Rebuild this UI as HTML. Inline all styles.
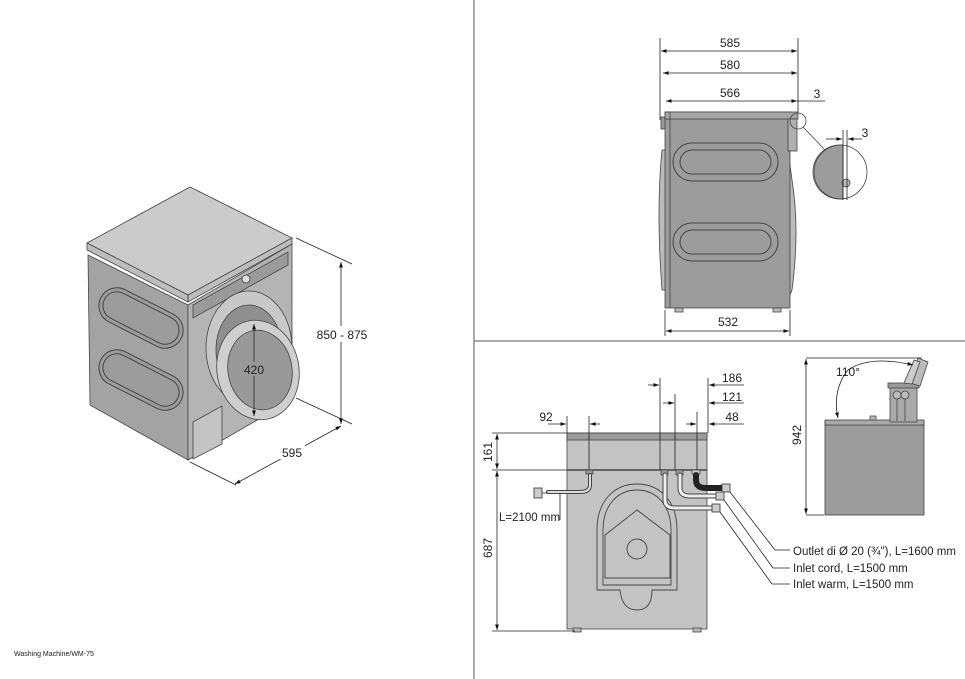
<!DOCTYPE html>
<html><head><meta charset="utf-8"><style>
html,body{margin:0;padding:0;background:#fff}
svg{display:block}
text{font-family:"Liberation Sans",sans-serif;fill:#222}
</style></head><body>
<svg width="965" height="679" viewBox="0 0 965 679" xmlns="http://www.w3.org/2000/svg">
<defs>
<marker id="a" viewBox="0 0 10 10" refX="10" refY="5" markerWidth="7" markerHeight="7" orient="auto-start-reverse"><path d="M0,1.5 L10,5 L0,8.5 z" fill="#111"/></marker>
</defs>
<g stroke="#555" stroke-width="1" fill="none">
<line x1="474" y1="0" x2="474" y2="679"/>
<line x1="474" y1="341" x2="965" y2="341"/>
</g>

<!-- ISO machine -->
<g stroke="#444" stroke-width="0.8">
<polygon points="88,255 188,305 188,460 90,405" fill="#a3a3a3"/>
<polygon points="188,305 292,244 292,400 188,460" fill="#b4b4b4"/>
<polygon points="190,187 87,243 188,295 292,238" fill="#cbcbcb"/>
<polygon points="87,243 188,295 188,302 87,250" fill="#bdbdbd"/>
<polygon points="188,295 292,238 292,244 188,302" fill="#bdbdbd"/>
<polygon points="193,305 288,252 288,265 193,318" fill="#9a9a9a"/>
<circle cx="246" cy="279" r="4" fill="#ddd"/>
<g fill="none" stroke="#444" stroke-width="1">
<rect x="96" y="300" width="90" height="36" rx="18" transform="rotate(27 141 318)" fill="#9c9c9c"/>
<rect x="100" y="304" width="82" height="28" rx="14" transform="rotate(27 141 318)"/>
<rect x="96" y="362" width="90" height="36" rx="18" transform="rotate(27 141 380)" fill="#9c9c9c"/>
<rect x="100" y="366" width="82" height="28" rx="14" transform="rotate(27 141 380)"/>
</g>
<polygon points="193,422 222,406 222,444 193,459" fill="#c4c4c4"/>
<ellipse cx="249" cy="348" rx="43" ry="57" fill="#c8c8c8"/>
<ellipse cx="249" cy="350" rx="33" ry="45" fill="#8f8f8f"/>
<ellipse cx="258" cy="370" rx="41" ry="50" fill="#cfcfcf" transform="rotate(-10 258 370)"/>
<ellipse cx="260" cy="370" rx="32" ry="40" fill="#999" transform="rotate(-10 260 370)"/>
</g>
<g stroke="#222" stroke-width="0.8" fill="none">
<line x1="254" y1="324" x2="254" y2="416" marker-start="url(#a)" marker-end="url(#a)"/>
<line x1="296" y1="238" x2="352" y2="264"/>
<line x1="296" y1="398" x2="352" y2="424"/>
<line x1="341" y1="262" x2="341" y2="424" marker-start="url(#a)" marker-end="url(#a)"/>
<line x1="190" y1="462" x2="236" y2="485"/>
<line x1="235" y1="484" x2="341" y2="426" marker-start="url(#a)" marker-end="url(#a)"/>
</g>
<rect x="243" y="362" width="22" height="14" fill="#999"/>
<text x="254" y="374" font-size="12" text-anchor="middle">420</text>
<rect x="313" y="326" width="58" height="16" fill="#fff"/>
<text x="342" y="339" font-size="12" text-anchor="middle">850 - 875</text>
<rect x="280" y="445" width="25" height="14" fill="#fff"/>
<text x="292" y="457" font-size="12" text-anchor="middle">595</text>

<!-- Side view -->
<g stroke="#444" stroke-width="0.8">
<path d="M662,150 Q656,210 662,290 L667,290 L667,150 z" fill="#bbb"/>
<path d="M788,150 L792,180 Q800,230 792,290 L788,300 z" fill="#bbb"/>
<rect x="661" y="117" width="6" height="12" fill="#999"/>
<rect x="665" y="112" width="125" height="196" fill="#9c9c9c"/>
<rect x="665" y="112" width="133" height="7" fill="#a5a5a5"/>
<rect x="788" y="119" width="9" height="32" fill="#b0b0b0"/>
<rect x="675" y="308" width="8" height="4" fill="#bbb"/>
<rect x="773" y="308" width="8" height="4" fill="#bbb"/>
<line x1="670" y1="112" x2="670" y2="308"/>
<g fill="none" stroke-width="1">
<rect x="673" y="143" width="105" height="38" rx="19"/>
<rect x="680" y="150" width="91" height="24" rx="12"/>
<rect x="673" y="223" width="105" height="38" rx="19"/>
<rect x="680" y="230" width="91" height="24" rx="12"/>
</g>
<circle cx="798" cy="121" r="8" fill="none"/>
<line x1="803" y1="127" x2="825" y2="150"/>
<path d="M841,145 A27,27 0 0,0 841,199 L843,199 L843,145 z" fill="#9c9c9c"/>
<circle cx="840" cy="172" r="27" fill="none"/>
<circle cx="846" cy="183" r="4" fill="#bbb"/>
</g>
<g stroke="#222" stroke-width="0.8" fill="none">
<line x1="660" y1="38" x2="660" y2="120"/><line x1="798" y1="38" x2="798" y2="112"/>
<line x1="661" y1="51" x2="797" y2="51" marker-start="url(#a)" marker-end="url(#a)"/>
<line x1="663" y1="73" x2="797" y2="73" marker-start="url(#a)" marker-end="url(#a)"/>
<line x1="666" y1="101" x2="797" y2="101" marker-start="url(#a)" marker-end="url(#a)"/>
<line x1="797" y1="101" x2="825" y2="101"/>
<line x1="665" y1="310" x2="665" y2="336"/><line x1="790" y1="310" x2="790" y2="336"/>
<line x1="666" y1="331" x2="789" y2="331" marker-start="url(#a)" marker-end="url(#a)"/>
<line x1="843" y1="130" x2="843" y2="200"/><line x1="847" y1="130" x2="847" y2="200"/>
<line x1="826" y1="139" x2="842" y2="139" marker-end="url(#a)"/>
<line x1="862" y1="139" x2="848" y2="139" marker-end="url(#a)"/>
</g>
<text x="730" y="47" font-size="12" text-anchor="middle">585</text>
<text x="730" y="69" font-size="12" text-anchor="middle">580</text>
<text x="730" y="97" font-size="12" text-anchor="middle">566</text>
<text x="817" y="98" font-size="12" text-anchor="middle">3</text>
<text x="865" y="137" font-size="12" text-anchor="middle">3</text>
<text x="728" y="326" font-size="12" text-anchor="middle">532</text>

<!-- Back view -->
<g stroke="#444" stroke-width="0.8">
<rect x="567" y="433" width="140" height="196" fill="#c3c3c3"/>
<rect x="567" y="433" width="140" height="7" fill="#9a9a9a"/>
<line x1="567" y1="470" x2="707" y2="470" stroke-width="1.5"/>
<rect x="573" y="628" width="8" height="4" fill="#bbb"/>
<rect x="693" y="628" width="8" height="4" fill="#bbb"/>
<g fill="none" stroke-width="0.9">
<path d="M597,590 L597,530 C597,500 615,484 637,484 C659,484 677,500 677,530 L677,590 L652,590 Q652,610 637,610 Q622,610 620,590 z"/>
<path d="M603,585 L603,530 C603,505 618,490 637,490 C656,490 671,505 671,530 L671,585 z"/>
<path d="M605,535 L637,510 L670,535 L670,578 L605,578 z"/>
<circle cx="637" cy="549" r="10"/>
</g>
<rect x="586" y="470" width="7" height="4" fill="#999"/>
<rect x="661" y="470" width="7" height="5" fill="#999"/>
<rect x="676" y="470" width="7" height="5" fill="#999"/>
<rect x="692" y="470" width="8" height="4" fill="#ccc"/>
</g>
<g fill="none" stroke-linecap="round">
<path d="M590,475 L590,485 Q590,492 580,492 L548,492" stroke="#444" stroke-width="4"/>
<path d="M590,475 L590,485 Q590,492 580,492 L548,492" stroke="#ddd" stroke-width="2"/>
<path d="M665,475 L665,500 Q665,508 675,508 L712,508" stroke="#444" stroke-width="5"/>
<path d="M665,475 L665,500 Q665,508 675,508 L712,508" stroke="#eee" stroke-width="3"/>
<path d="M680,475 L680,488 Q680,496 690,496 L716,496" stroke="#444" stroke-width="5"/>
<path d="M680,475 L680,488 Q680,496 690,496 L716,496" stroke="#eee" stroke-width="3"/>
<path d="M696,475 L696,480 Q696,488 706,488 L722,488" stroke="#222" stroke-width="6"/>
</g>
<g stroke="#333" stroke-width="0.8" fill="#ccc">
<rect x="722" y="484" width="8" height="8"/>
<rect x="716" y="492" width="8" height="8"/>
<rect x="712" y="504" width="8" height="8"/>
<rect x="534" y="488" width="8" height="10"/>
<line x1="542" y1="493" x2="548" y2="493"/>
</g>
<g stroke="#222" stroke-width="0.8" fill="none">
<line x1="730" y1="492" x2="775" y2="550"/><line x1="775" y1="550" x2="790" y2="550"/>
<line x1="724" y1="500" x2="773" y2="568"/><line x1="773" y1="568" x2="790" y2="568"/>
<line x1="720" y1="512" x2="772" y2="584"/><line x1="772" y1="584" x2="790" y2="584"/>
<line x1="560" y1="493" x2="560" y2="520"/>
<line x1="567" y1="416" x2="567" y2="433"/><line x1="589" y1="416" x2="589" y2="470"/>
<line x1="548" y1="424" x2="566" y2="424" marker-end="url(#a)"/>
<line x1="600" y1="424" x2="590" y2="424" marker-end="url(#a)"/>
<line x1="660" y1="378" x2="660" y2="470"/><line x1="675" y1="394" x2="675" y2="470"/>
<line x1="697" y1="412" x2="697" y2="470"/><line x1="708" y1="378" x2="708" y2="433"/>
<line x1="648" y1="385" x2="659" y2="385" marker-end="url(#a)"/>
<line x1="744" y1="385" x2="709" y2="385" marker-end="url(#a)"/>
<line x1="663" y1="403" x2="674" y2="403" marker-end="url(#a)"/>
<line x1="744" y1="403" x2="709" y2="403" marker-end="url(#a)"/>
<line x1="686" y1="424" x2="696" y2="424" marker-end="url(#a)"/>
<line x1="744" y1="424" x2="709" y2="424" marker-end="url(#a)"/>
<line x1="492" y1="433" x2="567" y2="433"/><line x1="492" y1="470" x2="567" y2="470"/>
<line x1="492" y1="631" x2="575" y2="631"/>
<line x1="497" y1="434" x2="497" y2="469" marker-start="url(#a)" marker-end="url(#a)"/>
<line x1="497" y1="471" x2="497" y2="630" marker-start="url(#a)" marker-end="url(#a)"/>
</g>
<text x="546" y="421" font-size="12" text-anchor="middle">92</text>
<text x="732" y="382" font-size="12" text-anchor="middle">186</text>
<text x="732" y="401" font-size="12" text-anchor="middle">121</text>
<text x="732" y="421" font-size="12" text-anchor="middle">48</text>
<text transform="translate(492,452) rotate(-90)" font-size="12" text-anchor="middle">161</text>
<text transform="translate(492,548) rotate(-90)" font-size="12" text-anchor="middle">687</text>
<text x="499" y="521" font-size="11.5">L=2100 mm</text>
<text x="793" y="555" font-size="11.5">Outlet di Ø 20 (¾"), L=1600 mm</text>
<text x="793" y="572" font-size="11.5">Inlet cord, L=1500 mm</text>
<text x="793" y="588" font-size="11.5">Inlet warm, L=1500 mm</text>

<!-- Top-open view -->
<g stroke="#444" stroke-width="0.8">
<rect x="825" y="422" width="99" height="93" fill="#9c9c9c"/>
<rect x="825" y="420" width="99" height="5" fill="#aaa"/>
<rect x="870" y="416" width="6" height="4" fill="#bbb"/>
<rect x="890" y="384" width="27" height="38" fill="#aaa"/>
<rect x="888" y="383" width="31" height="5" fill="#999"/>
<circle cx="897" cy="395" r="4" fill="#bbb"/><circle cx="905" cy="395" r="4" fill="#bbb"/>
<line x1="897" y1="399" x2="897" y2="421"/><line x1="905" y1="399" x2="905" y2="421"/>
<polygon points="910,383 918,358 928,362 920,386" fill="#bbb"/>
<polygon points="904,383 914,360 920,362 912,384" fill="#ccc"/>
</g>
<g stroke="#222" stroke-width="0.8" fill="none">
<line x1="806" y1="358" x2="922" y2="358"/>
<line x1="806" y1="515" x2="824" y2="515"/>
<line x1="806" y1="359" x2="806" y2="514" marker-start="url(#a)" marker-end="url(#a)"/>
<path d="M913,365 Q870,355 848,370 Q832,390 838,418" marker-start="url(#a)" marker-end="url(#a)"/>
</g>
<text transform="translate(801,435) rotate(-90)" font-size="12" text-anchor="middle">942</text>
<text x="848" y="376" font-size="12" text-anchor="middle">110°</text>

<text x="14" y="656" font-size="7">Washing Machine/WM-75</text>
</svg>
</body></html>
